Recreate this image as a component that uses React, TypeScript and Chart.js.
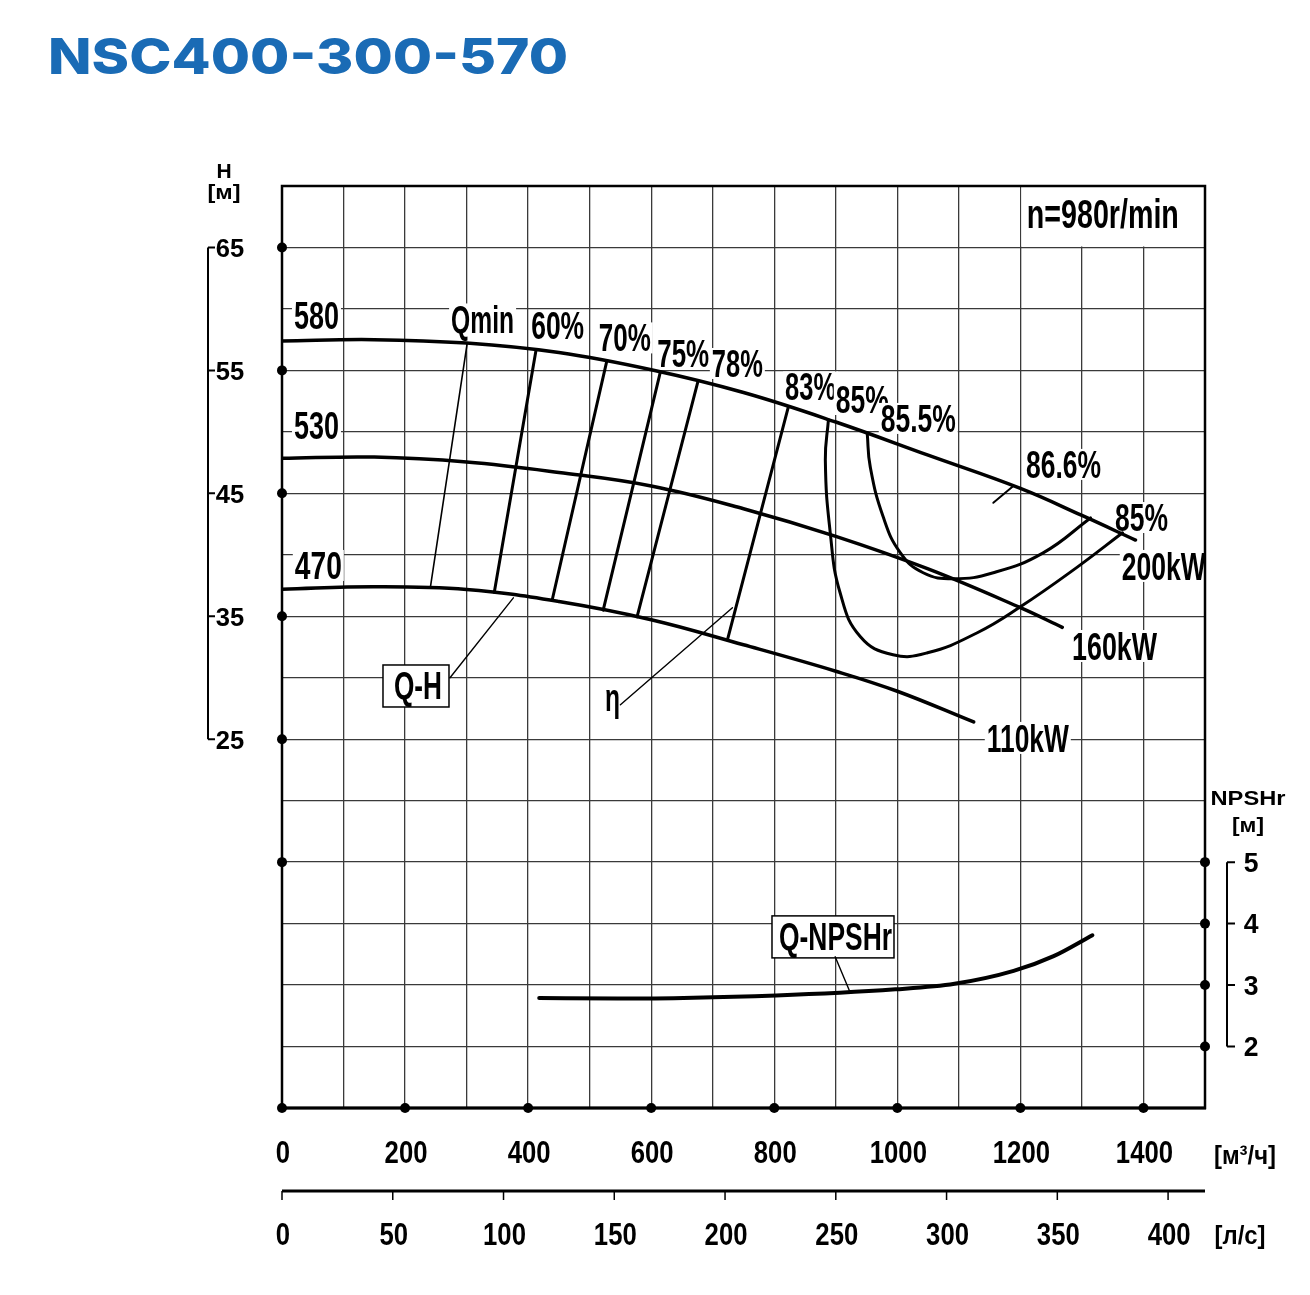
import React, { useEffect, useRef } from 'react';
import { Chart, registerables } from 'chart.js';

Chart.register(...registerables);

// ---------- texts ----------
const TITLE = 'NSC400-300-570';
const SPEED_LABEL = 'n=980r/min';
const impellerLabels = ['580', '530', '470'];
const powerLabels = ['200kW', '160kW', '110kW'];
const isoNames = ['Qmin', '60%', '70%', '75%', '78%', '83%'];
const loopNames = ['85%', '85.5%', '86.6%', '85%'];

// ---------- Q-H curves (Q m³/h, H m) ----------
const flow580 = [0, 150, 300, 450, 600, 750, 900, 1050, 1200, 1300, 1387];
const head580 = [57.4, 57.5, 57.22, 56.45, 55.05, 53.2, 50.8, 48.1, 45.4, 43.2, 41.2];
const flow530 = [0, 150, 300, 450, 600, 750, 900, 1050, 1200, 1268];
const head530 = [47.85, 47.95, 47.55, 46.7, 45.6, 43.75, 41.5, 38.85, 35.7, 34.1];
const flow470 = [0, 150, 300, 450, 600, 750, 900, 1000, 1124];
const head470 = [37.2, 37.4, 37.18, 36.2, 34.72, 32.68, 30.53, 28.9, 26.4];

// ---------- iso-efficiency lines (top point on 580, bottom point on 470) ----------
const isoFlowTop = [301, 413, 528, 615, 676, 823];
const isoHeadTop = [57.22, 56.7, 55.8, 54.9, 54.1, 52.05];
const isoFlowBottom = [241, 345, 439, 522, 577, 724];
const isoHeadBottom = [37.3, 36.95, 36.3, 35.5, 34.95, 33.1];

const eff85Flow = [888, 883, 891, 907, 940, 993, 1049, 1130, 1200, 1293, 1366];
const eff85Head = [50.98, 47.72, 41.79, 36.91, 33.33, 31.87, 32.03, 33.66, 35.77, 39.02, 41.79];
const eff855Flow = [951, 956, 977, 1005, 1042, 1091, 1156, 1237, 1314];
const eff855Head = [49.92, 47.15, 43.09, 40.16, 38.54, 38.05, 38.54, 40.16, 43.0];
const eff866Flow = [1156, 1189];
const eff866Head = [44.23, 45.61];

// ---------- NPSHr ----------
const npshFlow = [418, 546, 803, 997, 1093, 1189, 1254, 1317];
const npshValue = [2.79, 2.78, 2.83, 2.93, 3.02, 3.23, 3.47, 3.81];

// ---------- leader lines ----------
const leaderQHFlow = [273, 376];
const leaderQHHead = [30.0, 36.5];
const leaderEtaFlow = [550, 732];
const leaderEtaHead = [27.8, 35.7];
const leaderNpshFlow = [899, 922];
const leaderNpshValue = [3.46, 2.91];

// ---------- ticks ----------
const flowTicks = [0, 200, 400, 600, 800, 1000, 1200, 1400];
const litreTicks = [0, 50, 100, 150, 200, 250, 300, 350, 400];
const headTicks = [65, 55, 45, 35, 25];
const npshTicks = [5, 4, 3, 2];
const leftDotHeads = [65, 55, 45, 35, 25, 15];

const NARROW = '"Liberation Sans Narrow", "Arial Narrow", "Liberation Sans", Arial, sans-serif';
const WIDE = '"Liberation Sans", Arial, sans-serif';

type TextOpts = { size: number; family?: string; weight?: string; width?: number; sx?: number; bg?: boolean; color?: string; align?: 'center' | 'left' };

function drawText(c: CanvasRenderingContext2D, text: string, x: number, capMid: number, o: TextOpts) {
  c.save();
  const family = o.family || NARROW;
  c.font = `${o.weight || 'bold'} ${o.size}px ${family}`;
  const m = c.measureText(text);
  const sx = o.width ? o.width / m.width : o.sx || 1;
  const w = m.width * sx;
  const base = capMid + 0.358 * o.size;
  const left = o.align === 'left' ? x : x - w / 2;
  if (o.bg) {
    c.fillStyle = '#fff';
    c.fillRect(left - 2, base - m.actualBoundingBoxAscent - 2, w + 4, m.actualBoundingBoxAscent + m.actualBoundingBoxDescent + 4);
  }
  c.translate(left, base);
  c.scale(sx, 1);
  c.textAlign = 'left';
  c.textBaseline = 'alphabetic';
  c.fillStyle = o.color || '#000';
  c.fillText(text, 0, 0);
  c.restore();
}

function digitScale(c: CanvasRenderingContext2D, size: number, adv: number, family = NARROW) {
  c.save();
  c.font = `bold ${size}px ${family}`;
  const w = c.measureText('0').width;
  c.restore();
  return adv / w;
}

const pts = (xs: number[], ys: number[]) => xs.map((x, i) => ({ x, y: ys[i] }));

export default function App() {
  const ref = useRef<HTMLCanvasElement>(null);

  useEffect(() => {
    const canvas = ref.current!;
    const line = (data: any[], width: number, extra: any = {}) => ({
      data,
      borderColor: '#000',
      backgroundColor: '#000',
      borderWidth: width,
      pointRadius: 0,
      showLine: true,
      fill: false,
      borderCapStyle: 'round',
      borderJoinStyle: 'round',
      ...extra,
    });
    const dots = (data: any[], extra: any = {}) => ({
      data,
      showLine: false,
      pointRadius: 5,
      pointBackgroundColor: '#000',
      pointBorderColor: '#000',
      pointBorderWidth: 0,
      clip: false,
      ...extra,
    });

    const datasets: any[] = [
      line(pts(flow580, head580), 3.5, { tension: 0.4 }),
      line(pts(flow530, head530), 3.5, { tension: 0.4 }),
      line(pts(flow470, head470), 3.5, { tension: 0.4 }),
      ...isoFlowTop.map((q, i) =>
        line([{ x: q, y: isoHeadTop[i] }, { x: isoFlowBottom[i], y: isoHeadBottom[i] }], i === 0 ? 1.6 : 3)
      ),
      line(pts(eff85Flow, eff85Head), 3, { tension: 0.45 }),
      line(pts(eff855Flow, eff855Head), 3, { tension: 0.45 }),
      line(pts(eff866Flow, eff866Head), 2),
      line(pts(leaderQHFlow, leaderQHHead), 1.4),
      line(pts(leaderEtaFlow, leaderEtaHead), 1.4),
      line(pts(npshFlow, npshValue), 4, { yAxisID: 'y2', cubicInterpolationMode: 'monotone' }),
      line(pts(leaderNpshFlow, leaderNpshValue), 1.4, { yAxisID: 'y2' }),
      dots(leftDotHeads.map((h) => ({ x: 0, y: h }))),
      dots(flowTicks.map((q) => ({ x: q, y: -5 }))),
      dots(npshTicks.map((n) => ({ x: 1500, y: n })), { yAxisID: 'y2' }),
    ];

    const decor = {
      id: 'decor',
      beforeDraw(chart: any) {
        const c = chart.ctx as CanvasRenderingContext2D;
        c.save();
        c.fillStyle = '#fff';
        c.fillRect(0, 0, chart.width, chart.height);
        c.restore();
      },
      beforeDatasetsDraw(chart: any) {
        const c = chart.ctx as CanvasRenderingContext2D;
        const xs = chart.scales.x, ys = chart.scales.y, y2 = chart.scales.y2;
        const a = chart.chartArea;
        const X = (q: number) => xs.getPixelForValue(q);
        const Y = (h: number) => ys.getPixelForValue(h);

        // white box behind speed label
        c.save();
        c.fillStyle = '#fff';
        c.fillRect(X(1200) + 1, a.top, a.right - X(1200) - 1, Y(65) - a.top - 1);
        c.restore();

        const S = 39;
        const ann: { t: string; q: number; h: number; w: number; size?: number }[] = [
          { t: impellerLabels[0], q: 56, h: 59.5, w: 45 },
          { t: impellerLabels[1], q: 56, h: 50.56, w: 45 },
          { t: impellerLabels[2], q: 59, h: 39.17, w: 47 },
          { t: isoNames[0], q: 326, h: 59.14, w: 63 },
          { t: isoNames[1], q: 448, h: 58.65, w: 53 },
          { t: isoNames[2], q: 557, h: 57.68, w: 52 },
          { t: isoNames[3], q: 652, h: 56.42, w: 52 },
          { t: isoNames[4], q: 740, h: 55.6, w: 51 },
          { t: isoNames[5], q: 859, h: 53.69, w: 51 },
          { t: loopNames[0], q: 943, h: 52.67, w: 53 },
          { t: loopNames[1], q: 1034, h: 51.13, w: 75 },
          { t: loopNames[2], q: 1270, h: 47.39, w: 75 },
          { t: loopNames[3], q: 1397, h: 43.07, w: 53 },
          { t: powerLabels[0], q: 1433, h: 39.09, w: 84 },
          { t: powerLabels[1], q: 1353, h: 32.58, w: 85 },
          { t: powerLabels[2], q: 1212, h: 25.1, w: 82 },
          { t: SPEED_LABEL, q: 1334, h: 67.72, w: 152, size: 40 },
        ];
        for (const l of ann) drawText(c, l.t, X(l.q), Y(l.h), { size: l.size || S, width: l.w, bg: true });

        // boxed labels
        const boxed = (t: string, cx: number, cy: number, w: number, bw: number, bh: number, dx: number) => {
          c.save();
          c.fillStyle = '#fff';
          c.strokeStyle = '#000';
          c.lineWidth = 1.5;
          c.fillRect(cx - bw / 2 + dx, cy - bh / 2 + 1, bw, bh);
          c.strokeRect(cx - bw / 2 + dx, cy - bh / 2 + 1, bw, bh);
          c.restore();
          drawText(c, t, cx, cy, { size: 39, width: w });
        };
        boxed('Q-H', X(221), Y(29.41), 48, 66, 42, -2);
        boxed('Q-NPSHr', X(899.5), y2.getPixelForValue(3.8), 113, 122, 42, -2.5);
        // eta
        drawText(c, 'η', X(537), Y(28.4), { size: 38, width: 15 });

        // frame
        c.save();
        c.strokeStyle = '#000';
        c.lineWidth = 2.5;
        c.strokeRect(a.left, a.top, a.right - a.left, a.bottom - a.top);
        c.lineWidth = 3;
        c.beginPath();
        c.moveTo(a.left - 1, a.bottom);
        c.lineTo(a.right + 1, a.bottom);
        c.stroke();
        c.restore();
      },
      afterDraw(chart: any) {
        const c = chart.ctx as CanvasRenderingContext2D;
        const xs = chart.scales.x, ys = chart.scales.y, y2 = chart.scales.y2;
        const a = chart.chartArea;
        const X = (q: number) => xs.getPixelForValue(q);
        const Y = (h: number) => ys.getPixelForValue(h);

        // title
        drawText(c, TITLE, 48, 56, { size: 50, family: 'Inter, "Open Sans", sans-serif', weight: '800', width: 520, color: '#1a6bb5', align: 'left' });

        // bottom flow axis
        const sxB = digitScale(c, 31, 14.3);
        for (const q of flowTicks) drawText(c, String(q), X(q) + 1, a.bottom + 43.5, { size: 31, sx: sxB });
        drawText(c, '[м³/ч]', 1245, a.bottom + 47, { size: 25, width: 62 });

        // l/s axis
        const ly = a.bottom + 83;
        c.save();
        c.strokeStyle = '#000';
        c.lineWidth = 3;
        c.beginPath();
        c.moveTo(a.left, ly);
        c.lineTo(a.right, ly);
        c.stroke();
        c.lineWidth = 1.5;
        for (const l of litreTicks) {
          const px = X(l * 3.6);
          c.beginPath();
          c.moveTo(px, ly);
          c.lineTo(px, ly + 9);
          c.stroke();
        }
        c.restore();
        for (const l of litreTicks) drawText(c, String(l), X(l * 3.6) + 1, ly + 43, { size: 31, sx: sxB });
        drawText(c, '[л/с]', 1240, ly + 44, { size: 25, width: 51 });

        // left H axis
        const sxL = digitScale(c, 26, 14.2);
        const bx = a.left - 74;
        c.save();
        c.strokeStyle = '#000';
        c.lineWidth = 2;
        c.beginPath();
        c.moveTo(bx, Y(65));
        c.lineTo(bx, Y(25));
        for (const h of headTicks) {
          c.moveTo(bx, Y(h));
          c.lineTo(bx + 7, Y(h));
        }
        c.stroke();
        c.restore();
        for (const h of headTicks) drawText(c, String(h), bx + 22, Y(h), { size: 26, sx: sxL });
        drawText(c, 'H', 224, 170, { size: 21, family: WIDE });
        drawText(c, '[м]', 224, 192, { size: 20, family: WIDE, width: 33 });

        // right NPSH axis
        const rx = a.right + 22;
        c.save();
        c.strokeStyle = '#000';
        c.lineWidth = 2;
        c.beginPath();
        c.moveTo(rx, y2.getPixelForValue(5));
        c.lineTo(rx, y2.getPixelForValue(2));
        for (const n of npshTicks) {
          c.moveTo(rx, y2.getPixelForValue(n));
          c.lineTo(rx + 8, y2.getPixelForValue(n));
        }
        c.stroke();
        c.restore();
        for (const n of npshTicks) drawText(c, String(n), rx + 24, y2.getPixelForValue(n), { size: 27, sx: sxL });
        drawText(c, 'NPSHr', 1248, 797.5, { size: 20, family: WIDE, width: 75 });
        drawText(c, '[м]', 1248, 825, { size: 20, family: WIDE, width: 32 });
      },
    };

    const grid = { color: '#3a3a3a', lineWidth: 1.3, drawTicks: false };
    const chart = new Chart(canvas, {
      type: 'scatter',
      data: { datasets },
      options: {
        responsive: false,
        animation: false,
        events: [],
        layout: { padding: { left: 282, top: 186, right: 105, bottom: 187 } },
        plugins: { legend: { display: false }, tooltip: { enabled: false }, title: { display: false } },
        scales: {
          x: { type: 'linear', min: 0, max: 1500, ticks: { display: false, stepSize: 100 }, grid, border: { display: false } },
          y: { type: 'linear', min: -5, max: 70, ticks: { display: false, stepSize: 5 }, grid, border: { display: false } },
          y2: { type: 'linear', position: 'right', min: 1, max: 16, display: false },
        },
      } as any,
      plugins: [decor as any],
    });
    return () => chart.destroy();
  }, []);

  return (
    <canvas
      ref={ref}
      width={1310}
      height={1295}
      style={{ position: 'absolute', left: 0, top: 0, width: 1310, height: 1295 }}
    />
  );
}
